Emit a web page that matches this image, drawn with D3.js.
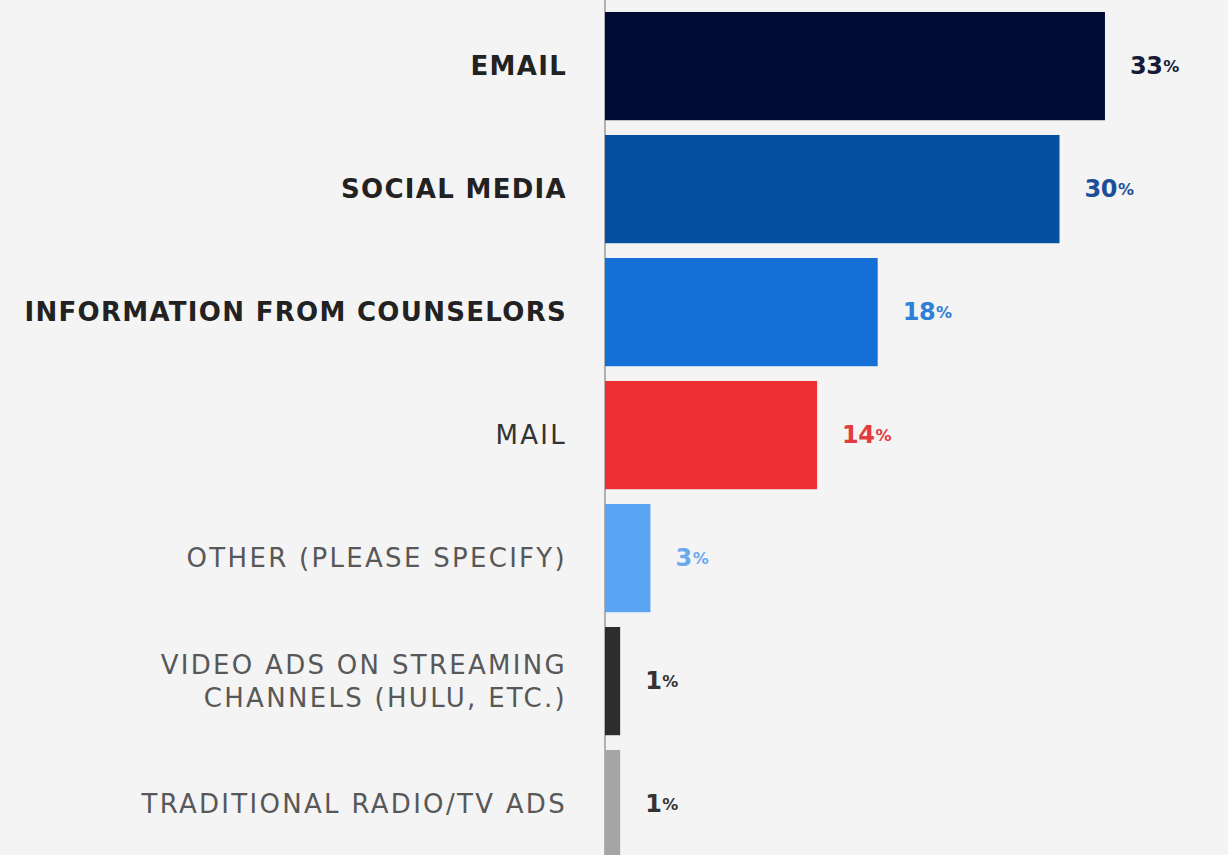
<!DOCTYPE html>
<html>
<head>
<meta charset="utf-8">
<script src="https://cdn.jsdelivr.net/npm/d3@7"></script>
<style>
  html, body { margin: 0; padding: 0; background: #f4f4f4; }
  svg { display: block; }
</style>
</head>
<body>
<svg id="chart" width="1228" height="855"></svg>
<script>
// Survey responses: preferred channel for receiving information
const categories = [
  "EMAIL",
  "SOCIAL MEDIA",
  "INFORMATION FROM COUNSELORS",
  "MAIL",
  "OTHER (PLEASE SPECIFY)",
  "VIDEO ADS ON STREAMING|CHANNELS (HULU, ETC.)",
  "TRADITIONAL RADIO/TV ADS"
];
const values = [33, 30, 18, 14, 3, 1, 1];
const barColors = ["#000b33", "#0550a0", "#1470d6", "#ee3035", "#5aa5f3", "#2d2d2d", "#a5a5a5"];
const valueColors = ["#161c38", "#1d4f98", "#2e7fd6", "#e53a40", "#6aa9ee", "#333333", "#333333"];
const labelWeights = [700, 700, 700, 400, 400, 400, 400];
const labelColors = ["#222222", "#222222", "#222222", "#333333", "#585858", "#585858", "#585858"];
const gridTicks = [10, 20, 30, 40];

const svg = d3.select("#chart");
const W = 1228, H = 855;
const x0 = 605;

const x = d3.scaleLinear().domain([0, 41]).range([x0, x0 + 41 * 15.15]);
const y = d3.scaleBand()
  .domain(categories)
  .range([4.6, 4.6 + 7 * 123])
  .paddingInner(0.12)
  .paddingOuter(0.06);

// faint vertical gridlines
const blur = svg.append("defs").append("filter").attr("id", "soft")
  .attr("x", "-50%").attr("width", "200%");
blur.append("feGaussianBlur").attr("stdDeviation", 1.2);

svg.append("g")
  .selectAll("line")
  .data(gridTicks)
  .join("line")
  .attr("x1", d => x(d)).attr("x2", d => x(d))
  .attr("y1", 0).attr("y2", H)
  .attr("stroke", "#e3e3e3")
  .attr("stroke-width", 5)
  .attr("filter", "url(#soft)");

// baseline axis
svg.append("line")
  .attr("x1", x(0)).attr("x2", x(0))
  .attr("y1", 0).attr("y2", H)
  .attr("stroke", "#9a9a9a")
  .attr("stroke-width", 1.5);

// bars
svg.append("g")
  .selectAll("rect")
  .data(values)
  .join("rect")
  .attr("x", x(0))
  .attr("y", (d, i) => y(categories[i]))
  .attr("width", d => x(d) - x(0))
  .attr("height", y.bandwidth())
  .attr("fill", (d, i) => barColors[i]);

// category labels (right aligned, left of the axis)
const labels = svg.append("g")
  .attr("font-family", "'DejaVu Sans', sans-serif")
  .attr("text-anchor", "end");

categories.forEach((c, i) => {
  const lines = c.split("|");
  const cy = y(c) + y.bandwidth() / 2;
  const lh = 33;
  const bold = labelWeights[i] >= 700;
  const t = labels.append("text")
    .attr("x", 567)
    .attr("font-size", 26)
    .attr("letter-spacing", bold ? 1.3 : 2.3)
    .attr("font-weight", labelWeights[i])
    .attr("fill", labelColors[i])
    .attr("dominant-baseline", "central");
  lines.forEach((ln, k) => {
    t.append("tspan")
      .attr("x", 567)
      .attr("y", cy + (k - (lines.length - 1) / 2) * lh)
      .text(ln);
  });
});

// value labels after each bar
const vl = svg.append("g")
  .attr("font-family", "'DejaVu Sans', sans-serif")
  .attr("font-weight", 700);

values.forEach((v, i) => {
  const t = vl.append("text")
    .attr("x", x(v) + 25)
    .attr("y", y(categories[i]) + y.bandwidth() / 2)
    .attr("dominant-baseline", "central")
    .attr("fill", valueColors[i])
    .attr("font-size", 24)
    .attr("letter-spacing", -0.5);
  t.append("tspan").text(v);
  t.append("tspan").attr("font-size", 16).attr("dx", 1).text("%");
});
</script>
</body>
</html>
